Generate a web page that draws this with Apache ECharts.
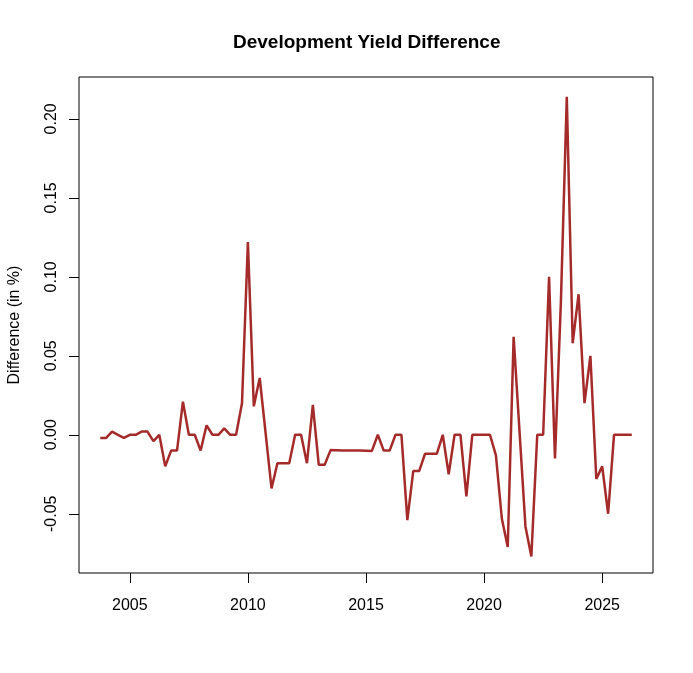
<!DOCTYPE html>
<html>
<head>
<meta charset="utf-8">
<script src="https://cdn.jsdelivr.net/npm/echarts@6/dist/echarts.min.js"></script>
<style>html,body{margin:0;padding:0;background:#fff}#c{width:693px;height:673px}</style>
</head>
<body>
<div id="c"></div>
<script>
// Quarterly periods (year, quarter)
var startYear = 2003, startQuarter = 4;
var values = [
  -0.002, -0.002, 0.002, 0.000, -0.002, 0.000, 0.000, 0.002, 0.002, -0.004,
   0.000, -0.020, -0.010, -0.010, 0.021, 0.000, 0.000, -0.010, 0.006, 0.000,
   0.000, 0.004, 0.000, 0.000, 0.020, 0.122, 0.018, 0.036, 0.001, -0.034,
  -0.018, -0.018, -0.018, 0.000, 0.000, -0.018, 0.019, -0.019, -0.019, -0.0097,
  -0.0098, -0.0099, -0.0099, -0.0100, -0.0100, -0.0101, -0.0102, 0.000, -0.010, -0.010,
   0.000, 0.000, -0.054, -0.023, -0.023, -0.012, -0.012, -0.012, 0.000, -0.025,
   0.000, 0.000, -0.039, 0.000, 0.000, 0.000, 0.000, -0.013, -0.053, -0.071,
   0.062, 0.002, -0.058, -0.077, 0.000, 0.000, 0.100, -0.015, 0.084, 0.214,
   0.058, 0.089, 0.020, 0.050, -0.028, -0.020, -0.050, 0.000, 0.000, 0.000,
   0.000
];
var xTicks = [2005, 2010, 2015, 2020, 2025];
var yTicks = [-0.05, 0.00, 0.05, 0.10, 0.15, 0.20];

var data = values.map(function (v, i) {
  var q = startQuarter - 1 + i;
  var t = startYear + Math.floor(q / 4) + (q % 4) / 4;
  return [t, v];
});

var font = '"Liberation Sans", Arial, Helvetica, sans-serif';
var chart = echarts.init(document.getElementById('c'), null, {renderer: 'canvas'});
chart.setOption({
  animation: false,
  backgroundColor: '#ffffff',
  title: {
    text: 'Development Yield Difference',
    left: 228, top: 28,
    textStyle: {fontFamily: font, fontSize: 19, fontWeight: 'bold', color: '#000'}
  },
  grid: {left: 79, right: 40, top: 77, bottom: 100, outerBoundsMode: 'none', containLabel: false,
    show: true, borderColor: '#000', borderWidth: 1, backgroundColor: 'transparent'},
  xAxis: {
    type: 'value', min: 2002.85, max: 2027.15,
    axisLine: {show: false, onZero: false},
    splitLine: {show: false},
    axisTick: {show: true, length: 10, inside: false, customValues: xTicks, lineStyle: {color: '#000'}},
    axisLabel: {customValues: xTicks, margin: 25, fontFamily: font, fontSize: 16, color: '#000',
      formatter: function (v) { return String(v); }}
  },
  yAxis: {
    type: 'value', min: -0.0875, max: 0.2265,
    name: 'Difference (in %)', nameLocation: 'middle', nameGap: 56,
    nameTextStyle: {fontFamily: font, fontSize: 16, color: '#000'},
    axisLine: {show: false, onZero: false},
    splitLine: {show: false},
    axisTick: {show: true, length: 10, inside: false, customValues: yTicks, lineStyle: {color: '#000'}},
    axisLabel: {customValues: yTicks, rotate: 90, margin: 19, fontFamily: font, fontSize: 16, color: '#000',
      formatter: function (v) { return v.toFixed(2); }}
  },
  series: [{
    type: 'line', data: data, showSymbol: false,
    lineStyle: {color: '#A52A2A', width: 2.5}
  }]
});
</script>
</body>
</html>
